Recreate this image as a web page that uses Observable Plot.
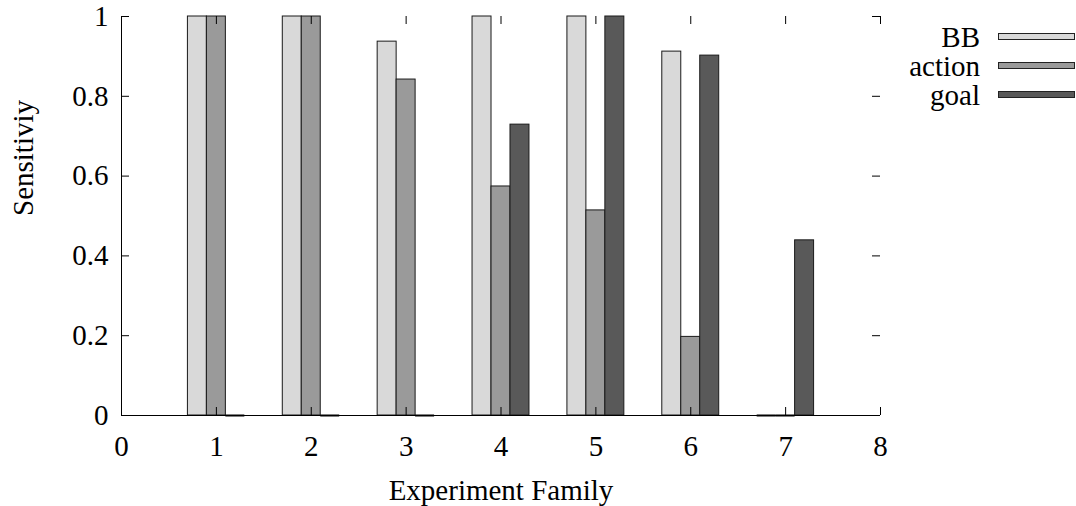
<!DOCTYPE html>
<html>
<head>
<meta charset="utf-8">
<script src="https://cdn.jsdelivr.net/npm/d3@7"></script>
<script src="https://cdn.jsdelivr.net/npm/@observablehq/plot@0.6"></script>
<style>
  html, body { margin: 0; padding: 0; background: #fff; }
  #wrap { position: relative; width: 1076px; height: 506px; font-family: "Liberation Serif", "DejaVu Serif", serif; }
  .row { position: absolute; left: 880px; width: 196px; height: 28px; }
  .row span { position: absolute; right: 96px; top: 0; font-size: 29px; line-height: 28px; color: #000; white-space: nowrap; }
  .row i { position: absolute; left: 118px; top: 10px; width: 75px; height: 5px; border: 1px solid #222; }
</style>
</head>
<body>
<div id="wrap"></div>
<script>
const families = [1, 2, 3, 4, 5, 6, 7];
const series = ["BB", "action", "goal"];
const bbValues     = [1.0, 1.0, 0.937, 1.0, 1.0, 0.912, 0.0];
const actionValues = [1.0, 1.0, 0.842, 0.574, 0.514, 0.197, 0.0];
const goalValues   = [0.0, 0.0, 0.0, 0.729, 1.0, 0.902, 0.439];
const seriesColors = ["#d9d9d9", "#9a9a9a", "#595959"];
const xTicks = [0, 1, 2, 3, 4, 5, 6, 7, 8];
const yTicks = [0, 0.2, 0.4, 0.6, 0.8, 1];
const xLabel = "Experiment Family";
const yLabel = "Sensitiviy";

const seriesValues = [bbValues, actionValues, goalValues];
const barWidth = 0.2;
const rows = [];
series.forEach((s, si) => {
  families.forEach((f, fi) => {
    const c = f + (si - 1) * barWidth;
    rows.push({series: s, family: f, x1: c - barWidth / 2, x2: c + barWidth / 2, value: seriesValues[si][fi]});
  });
});

const font = "Liberation Serif";
const fs = 29;
const chart = Plot.plot({
  width: 1076,
  height: 506,
  marginLeft: 121,
  marginRight: 196,
  marginTop: 16,
  marginBottom: 91,
  style: {fontFamily: font, fontSize: fs + "px", background: "white", color: "#000", overflow: "visible"},
  x: {domain: [0, 8]},
  y: {domain: [0, 1]},
  color: {domain: series, range: seriesColors},
  marks: [
    Plot.rectY(rows.filter(d => d.value > 0), {x1: "x1", x2: "x2", y1: 0, y2: "value", fill: "series", stroke: "#1a1a1a", strokeWidth: 1}),
    Plot.ruleY(rows.filter(d => d.value === 0), {x1: "x1", x2: "x2", y: 0, stroke: "#000", strokeWidth: 2}),
    // border lines (left and bottom)
    Plot.ruleX([0], {stroke: "#000", strokeWidth: 1}),
    Plot.ruleY([0], {stroke: "#000", strokeWidth: 1}),
    // inward tick marks and mirror ticks
    Plot.ruleX(xTicks, {x: d => d, y1: 0, y2: 0, insetTop: -8, stroke: "#000"}),
    Plot.ruleX(xTicks, {x: d => d, y1: 1, y2: 1, insetBottom: -8, stroke: "#000"}),
    Plot.ruleY(yTicks, {y: d => d, x1: 0, x2: 0, insetRight: -8, stroke: "#000"}),
    Plot.ruleY(yTicks, {y: d => d, x1: 8, x2: 8, insetLeft: -8, stroke: "#000"}),
    Plot.axisX({ticks: xTicks, tickSize: 0, tickPadding: 20, fontSize: fs, label: null}),
    Plot.axisY({ticks: yTicks, tickSize: 0, tickPadding: 13, fontSize: fs, tickFormat: d => String(d), label: null}),
    Plot.text([xLabel], {text: d => d, frameAnchor: "bottom", lineAnchor: "middle", dy: 75, fontSize: fs}),
    Plot.text([yLabel], {text: d => d, frameAnchor: "left", rotate: -90, lineAnchor: "middle", dx: -98, fontSize: fs})
  ]
});
const wrap = document.getElementById("wrap");
wrap.appendChild(chart);

const rowCenters = [37, 66, 95];
series.forEach((s, i) => {
  const row = document.createElement("div");
  row.className = "row";
  row.style.top = (rowCenters[i] - 14) + "px";
  const t = document.createElement("span");
  t.textContent = s;
  const sw = document.createElement("i");
  sw.style.background = seriesColors[i];
  row.appendChild(t);
  row.appendChild(sw);
  wrap.appendChild(row);
});
</script>
</body>
</html>
